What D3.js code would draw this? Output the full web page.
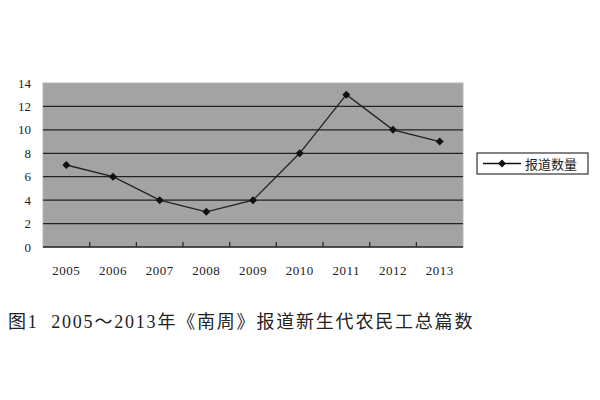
<!DOCTYPE html>
<html><head><meta charset="utf-8">
<script src="https://cdn.jsdelivr.net/npm/d3@7"></script>
<style>body{margin:0;background:#fff;}svg{display:block;}</style>
</head><body>
<script>
const years = ["2005","2006","2007","2008","2009","2010","2011","2012","2013"];
const counts = [7,6,4,3,4,8,13,10,9];
const yTicks = [0,2,4,6,8,10,12,14];
const seriesName = "报道数量";
const caption = "图1  2005～2013年《南周》报道新生代农民工总篇数";

const W=600,H=400;
const svg=d3.select("body").append("svg").attr("width",W).attr("height",H);
const m={l:43,t:83,r:463,b:247};
const x=d3.scaleBand().domain(years).range([m.l,m.r]);
const y=d3.scaleLinear().domain([0,14]).range([m.b,m.t]);
const serif="'Liberation Serif','DejaVu Serif',serif";

svg.append("rect").attr("x",m.l).attr("y",m.t).attr("width",m.r-m.l).attr("height",m.b-m.t)
  .attr("fill","#a3a3a3").attr("stroke","#b8b8b8");
svg.selectAll(".grid").data(yTicks.filter(d=>d>0&&d<14)).enter().append("line")
  .attr("x1",m.l).attr("x2",m.r).attr("y1",d=>y(d)).attr("y2",d=>y(d))
  .attr("stroke","#222").attr("stroke-width",1.3);
svg.append("line").attr("x1",m.l).attr("x2",m.r).attr("y1",m.b).attr("y2",m.b).attr("stroke","#222").attr("stroke-width",1.3);
svg.selectAll(".xt").data(years.slice(1)).enter().append("line")
  .attr("x1",d=>x(d)).attr("x2",d=>x(d)).attr("y1",m.b).attr("y2",m.b-5).attr("stroke","#222").attr("stroke-width",1.2);
svg.selectAll(".yl").data(yTicks).enter().append("text")
  .attr("x",m.l-12).attr("y",d=>y(d)+4.5).attr("text-anchor","end")
  .attr("font-family",serif).attr("font-size",13).attr("fill","#222").text(d=>d);
svg.selectAll(".xl").data(years).enter().append("text")
  .attr("x",d=>x(d)+x.bandwidth()/2).attr("y",275).attr("text-anchor","middle")
  .attr("font-family",serif).attr("font-size",13).attr("letter-spacing",0.5).attr("fill","#222").text(d=>d);

const cx=(d,i)=>x(years[i])+x.bandwidth()/2;
const line=d3.line().x((d,i)=>cx(d,i)).y(d=>y(d));
svg.append("path").datum(counts).attr("d",line).attr("fill","none").attr("stroke","#222").attr("stroke-width",1.3);
const diamond=d3.symbol().type(d3.symbolSquare).size(32);
svg.selectAll(".pt").data(counts).enter().append("path")
  .attr("d",diamond).attr("transform",(d,i)=>`translate(${cx(d,i)},${y(d)}) rotate(45)`).attr("fill","#111");

const lg=svg.append("g");
lg.append("rect").attr("x",477).attr("y",153).attr("width",111).attr("height",21).attr("fill","#fff").attr("stroke","#333").attr("stroke-width",1.2);
lg.append("line").attr("x1",483).attr("x2",521).attr("y1",163.5).attr("y2",163.5).attr("stroke","#111").attr("stroke-width",1.5);
lg.append("path").attr("d",diamond).attr("transform","translate(502,163.5) rotate(45)").attr("fill","#111");
lg.append("text").attr("x",525).attr("y",168.5).attr("font-family","'Noto Sans CJK SC'").attr("font-size",13).attr("fill","#222").text(seriesName);

svg.append("text").attr("x",8).attr("y",328).attr("font-family","'Liberation Serif','Noto Sans CJK SC'")
  .attr("font-size",18).attr("letter-spacing",1.8).attr("fill","#222").attr("xml:space","preserve").style("white-space","pre").text(caption);
</script>
</body></html>
